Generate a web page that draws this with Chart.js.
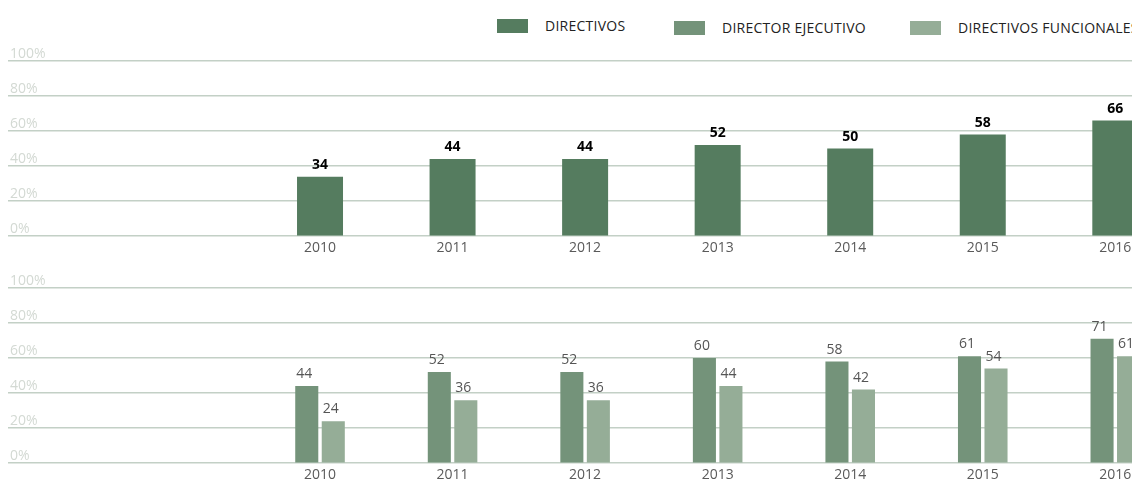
<!DOCTYPE html>
<html lang="es">
<head>
<meta charset="utf-8">
<script src="https://cdn.jsdelivr.net/npm/chart.js@4/dist/chart.umd.min.js"></script>
<style>
    html, body { margin: 0; padding: 0; background: #fff; overflow: hidden; }
    #wrap { position: relative; width: 1132px; height: 479px; overflow: hidden; font-family: "Open Sans", sans-serif; }
    .panel { position: absolute; left: 0; width: 1200px; }
    #topPanel { top: 0; height: 259px; }
    #bottomPanel { top: 262px; height: 224px; }
    .legend-item { position: absolute; display: flex; align-items: center; white-space: nowrap; font-size: 14px; letter-spacing: 0.25px; color: #222; }
    .legend-item .box { width: 31px; height: 14px; margin-right: 17px; }
</style>
</head>
<body>
<div id="wrap">
    <div id="legend"></div>
    <div class="panel" id="topPanel"><canvas id="directivosChart"></canvas></div>
    <div class="panel" id="bottomPanel"><canvas id="funcionesChart"></canvas></div>
</div>
<script>
// Datos
const years = [2010, 2011, 2012, 2013, 2014, 2015, 2016];
const directivos = [34, 44, 44, 52, 50, 58, 66];
const directorEjecutivo = [44, 52, 52, 60, 58, 61, 71];
const directivosFuncionales = [24, 36, 36, 44, 42, 54, 61];
const yTicks = [0, 20, 40, 60, 80, 100];

const seriesNames = ['DIRECTIVOS', 'DIRECTOR EJECUTIVO', 'DIRECTIVOS FUNCIONALES'];
const seriesColors = ['#557c5f', '#74937a', '#95ad97'];

// Rango del eje x (el gráfico original está recortado por la derecha)
const xMin = 2007.646;
const xMax = 2016.639;

// Leyenda
const legendPos = [[497, 16], [674, 18], [910, 18]];
const legend = document.getElementById('legend');
seriesNames.forEach((name, i) => {
    const item = document.createElement('div');
    item.className = 'legend-item';
    item.style.left = legendPos[i][0] + 'px';
    item.style.top = legendPos[i][1] + 'px';
    item.innerHTML = '<span class="box" style="background:' + seriesColors[i] + '"></span><span>' + name + '</span>';
    legend.appendChild(item);
});

// Etiquetas de valor sobre las barras
const valueLabels = {
    id: 'valueLabels',
    afterDatasetsDraw(chart, args, opts) {
        const ctx = chart.ctx;
        ctx.save();
        ctx.font = opts.font;
        ctx.fillStyle = opts.color;
        ctx.textAlign = opts.align;
        ctx.textBaseline = 'alphabetic';
        chart.data.datasets.forEach((ds, i) => {
            chart.getDatasetMeta(i).data.forEach((bar, j) => {
                const x = opts.align === 'center' ? bar.x : bar.x - bar.width / 2 + 1;
                ctx.fillText(ds.data[j], x, bar.y - 8);
            });
        });
        ctx.restore();
    }
};

function scalesConfig() {
    return {
        x: {
            type: 'linear',
            offset: false,
            min: xMin,
            max: xMax,
            afterBuildTicks: axis => { axis.ticks = years.map(v => ({ value: v })); },
            grid: { display: false, drawTicks: false, offset: false },
            border: { display: false },
            ticks: {
                padding: 3,
                color: '#5a5a5a',
                font: { family: 'Open Sans', size: 14 },
                callback: v => String(v)
            }
        },
        y: {
            min: 0,
            max: 100,
            afterBuildTicks: axis => { axis.ticks = yTicks.map(v => ({ value: v })); },
            grid: { color: '#c3d0c6', lineWidth: 1.5, drawTicks: false },
            border: { display: false },
            ticks: {
                mirror: true,
                padding: 2,
                labelOffset: -7,
                color: '#d3d9d3',
                font: { family: 'Open Sans', size: 14 },
                callback: v => v + '%'
            }
        }
    };
}

function baseOptions(padTop, labelOpts) {
    return {
        responsive: true,
        maintainAspectRatio: false,
        animation: false,
        layout: { padding: { top: padTop, left: 4, right: 0, bottom: 0 } },
        plugins: {
            legend: { display: false },
            tooltip: { enabled: false },
            valueLabels: labelOpts
        },
        scales: scalesConfig()
    };
}

// Panel superior: Directivos
new Chart(document.getElementById('directivosChart'), {
    type: 'bar',
    data: {
        labels: years,
        datasets: [{
            label: seriesNames[0],
            data: directivos,
            backgroundColor: seriesColors[0],
            categoryPercentage: 0.347,
            barPercentage: 1
        }]
    },
    options: baseOptions(61, { font: 'bold 14px "Open Sans"', color: '#000', align: 'center' }),
    plugins: [valueLabels]
});

// Panel inferior: Director ejecutivo y directivos funcionales
new Chart(document.getElementById('funcionesChart'), {
    type: 'bar',
    data: {
        labels: years,
        datasets: [{
            label: seriesNames[1],
            data: directorEjecutivo,
            backgroundColor: seriesColors[1],
            categoryPercentage: 0.4,
            barPercentage: 0.87
        }, {
            label: seriesNames[2],
            data: directivosFuncionales,
            backgroundColor: seriesColors[2],
            categoryPercentage: 0.4,
            barPercentage: 0.87
        }]
    },
    options: baseOptions(26, { font: '14px "Open Sans"', color: '#555', align: 'left' }),
    plugins: [valueLabels]
});
</script>
</body>
</html>
